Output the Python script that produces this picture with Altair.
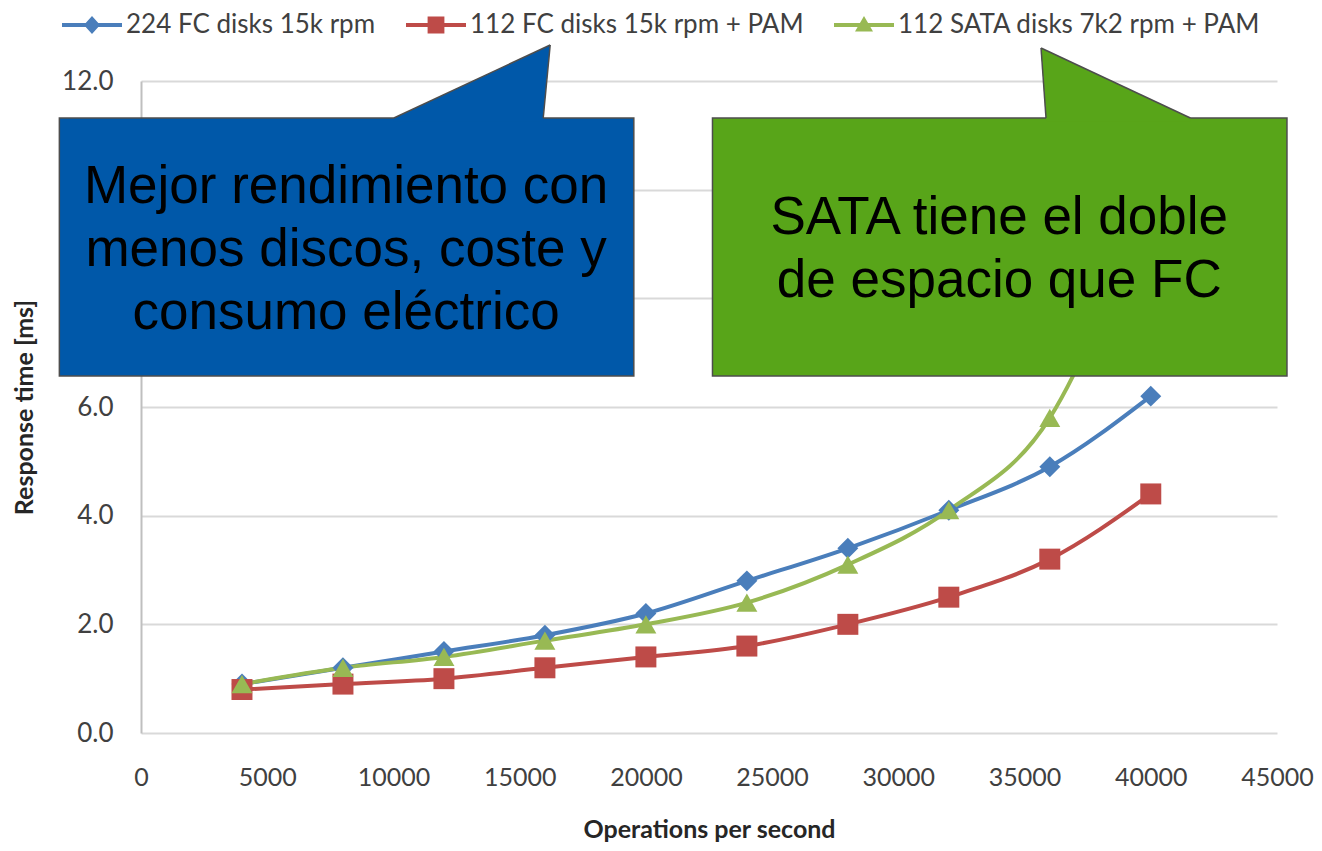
import altair as alt
import pandas as pd

# ---------------- data ----------------
ops = [4000, 8000, 12000, 16000, 20000, 24000, 28000, 32000, 36000, 40000]
fc224 = [0.9, 1.2, 1.5, 1.8, 2.2, 2.8, 3.4, 4.1, 4.9, 6.2]
fc112_pam = [0.8, 0.9, 1.0, 1.2, 1.4, 1.6, 2.0, 2.5, 3.2, 4.4]
sata112_pam = [0.9, 1.2, 1.4, 1.7, 2.0, 2.4, 3.1, 4.1, 5.8, 10.0]

series_names = ["224 FC disks 15k rpm", "112 FC disks 15k rpm + PAM", "112 SATA disks 7k2 rpm + PAM"]
series_values = [fc224, fc112_pam, sata112_pam]
colors = ["#4a7ebb", "#be4b48", "#98b954"]
shapes = ["diamond", "square", "triangle-up"]

x_ticks = [0, 5000, 10000, 15000, 20000, 25000, 30000, 35000, 40000, 45000]
y_ticks = [0, 2, 4, 6, 8, 10, 12]

# callout annotations (data units)
blue_text = "Mejor rendimiento con\nmenos discos, coste y\nconsumo eléctrico"
green_text = "SATA tiene el doble\nde espacio que FC"
blue_box = {"x": -3234, "x2": 19522, "y": 6.571, "y2": 11.319}
green_box = {"x": 22638, "x2": 45395, "y": 6.571, "y2": 11.319}
blue_tail = {"apex": (16209, 12.663), "left": 10017, "right": 15933}
green_tail = {"apex": (35653, 12.607), "left": 35850, "right": 41569}
blue_text_pos = (8124, 10.05)   # first line centre
green_text_pos = (33996, 9.48)  # first line centre

rows = []
for name, vals in zip(series_names, series_values):
    for o, v in zip(ops, vals):
        rows.append({"ops": o, "ms": v, "series": name})
df = pd.DataFrame(rows)

FONT = "Lato"
LABEL_COLOR = "#404040"
BORDER = "#4d4d4d"

# legend glyphs: line segment + marker (unit coords, scaled by sqrt(symbolSize)/2)
line_part = "M-1,-0.067H1V0.067H-1Z "
legend_paths = [
    line_part + "M0,-0.3L0.27,0L0,0.3L-0.27,0Z",
    line_part + "M-0.28,-0.28H0.28V0.28H-0.28Z",
    line_part + "M0,-0.3L0.3,0.22L-0.3,0.22Z",
]

x_enc = alt.X(
    "ops:Q",
    scale=alt.Scale(domain=[0, 45000], nice=False),
    axis=alt.Axis(
        values=x_ticks, format="d", grid=False, ticks=False, domain=False,
        labelFont=FONT, labelFontSize=25, labelColor=LABEL_COLOR, labelPadding=32,
        labelFlush=False, labelOverlap=False,
        title="Operations per second", titleFont=FONT, titleFontWeight="bold",
        titleFontSize=25, titleColor="#262626", titleY=96, titleBaseline="middle",
    ),
)
y_enc = alt.Y(
    "ms:Q",
    scale=alt.Scale(domain=[0, 12], nice=False),
    axis=alt.Axis(
        values=y_ticks, format=".1f", grid=True, gridColor="#d9d9d9", gridWidth=2,
        # labels 8.0 and 10.0 sit under the blue callout in the original
        labelExpr="datum.value == 8 || datum.value == 10 ? '' : datum.label",
        ticks=False, domain=True, domainColor="#bfbfbf", domainWidth=2,
        labelFont=FONT, labelFontSize=26, labelColor=LABEL_COLOR, labelPadding=28,
        title="Response time [ms]", titleFont=FONT, titleFontWeight="bold",
        titleFontSize=25, titleColor="#262626", titleX=-117, titleY=326,
        titleAngle=270, titleAlign="center", titleBaseline="middle",
    ),
)

legend_kw = dict(
    orient="none", legendX=-79, legendY=-86, direction="horizontal", title=None,
    symbolSize=3600, labelFont=FONT, labelFontSize=26, labelColor=LABEL_COLOR,
    labelOffset=4, columnPadding=30, padding=0, labelLimit=500,
    symbolStrokeWidth=0, symbolOpacity=1,
)

color_nolegend = alt.Color("series:N", scale=alt.Scale(domain=series_names, range=colors), legend=None)

base = alt.Chart(df).encode(x=x_enc, y=y_enc, color=color_nolegend)
lines = base.mark_line(interpolate="monotone", strokeWidth=4)
points = base.mark_point(filled=True, opacity=1, size=440).encode(
    shape=alt.Shape("series:N", scale=alt.Scale(domain=series_names, range=shapes), legend=None)
)

# legend carrier (no visible marks: data filtered out, legend from explicit domains)
legend_layer = alt.Chart(df).transform_filter("false").mark_point(filled=True).encode(
    color=alt.Color("series:N", scale=alt.Scale(domain=series_names, range=colors),
                    legend=alt.Legend(**legend_kw)),
    shape=alt.Shape("series:N", scale=alt.Scale(domain=series_names, range=legend_paths),
                    legend=alt.Legend(**legend_kw)),
)


def callout(box, tail, text, text_pos, fill):
    rect = alt.Chart(pd.DataFrame([box])).mark_rect(
        fill=fill, stroke=BORDER, strokeWidth=1.5
    ).encode(x="x:Q", x2="x2:Q", y="y:Q", y2="y2:Q")
    ax, ay = tail["apex"]
    base_y = box["y2"]
    tail_df = pd.DataFrame({
        "ty": [ay, base_y, base_y - 0.06],
        "tx": [ax, tail["left"], tail["left"]],
        "tx2": [ax, tail["right"], tail["right"]],
    })
    tail_area = alt.Chart(tail_df).mark_area(
        orient="horizontal", fill=fill, opacity=1
    ).encode(y="ty:Q", x="tx:Q", x2="tx2:Q")
    edges_df = pd.DataFrame({
        "ex": [ax, ax], "ey": [ay, ay],
        "ex2": [tail["left"], tail["right"]], "ey2": [base_y, base_y],
    })
    edges = alt.Chart(edges_df).mark_rule(color=BORDER, strokeWidth=1.5).encode(
        x="ex:Q", y="ey:Q", x2="ex2:Q", y2="ey2:Q"
    )
    txt = alt.Chart(pd.DataFrame([{"cx": text_pos[0], "cy": text_pos[1], "t": text}])).mark_text(
        font="Liberation Sans", fontSize=53, lineHeight=63, lineBreak="\n",
        align="center", baseline="middle", color="black",
    ).encode(x="cx:Q", y="cy:Q", text="t:N")
    return [rect, tail_area, edges, txt]


layers = [lines, points, legend_layer] \
    + callout(blue_box, blue_tail, blue_text, blue_text_pos, "#0058a9") \
    + callout(green_box, green_tail, green_text, green_text_pos, "#58a519")

chart = alt.layer(*layers).resolve_scale(
    color="independent", shape="independent"
).properties(
    width=1136, height=652,
    autosize=alt.AutoSizeParams(type="none"),
    padding={"left": 133, "top": 73, "right": 37, "bottom": 110},
    background="white",
).configure_view(stroke=None)

chart.save("out.html", embed_options={"renderer": "svg", "actions": False})
